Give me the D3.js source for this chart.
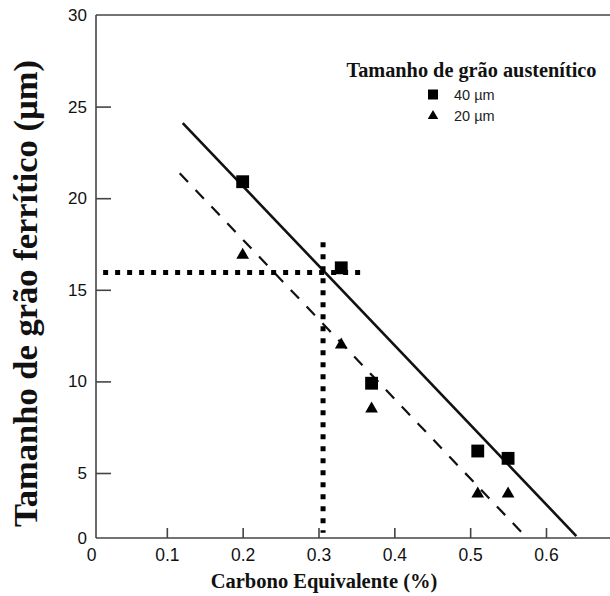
<!DOCTYPE html>
<html>
<head>
<meta charset="utf-8">
<script src="https://cdn.jsdelivr.net/npm/d3@7"></script>
<style>
  html, body { margin: 0; padding: 0; background: #fff; }
  svg { display: block; }
</style>
</head>
<body>
<svg id="chart" width="610" height="596"></svg>
<script>
// ---- data ----
const xTicks = [0, 0.1, 0.2, 0.3, 0.4, 0.5, 0.6];
const yTicks = [0, 5, 10, 15, 20, 25, 30];
const carbon = [0.20, 0.33, 0.37, 0.51, 0.55];
const grain40 = [20.9, 16.2, 9.9, 6.2, 5.8];
const grain20 = [16.9, 12.0, 8.5, 3.4, 3.4];
const fit40 = [[0.121, 24.1], [0.640, 0.15]];
const fit20 = [[0.117, 21.36], [0.570, 0.3]];
const guideH = [[0.016, 15.95], [0.355, 15.95]];
const guideV = [[0.306, 17.6], [0.306, 0.4]];
const legendTitle = "Tamanho de grão austenítico";
const legendLabels = ["40 µm", "20 µm"];
const xTitle = "Carbono Equivalente (%)";
const yTitle = "Tamanho de grão ferrítico (µm)";

// ---- layout ----
const W = 610, H = 596;
const svg = d3.select("#chart");
const x = d3.scaleLinear().domain([0, 0.6]).range([91, 546]);
const y = d3.scaleLinear().domain([0, 5, 30]).range([538, 473, 15]);
const axisX = 96;
const ink = "#111";
const axisInk = "#444";

// frame lines
svg.append("line").attr("x1", axisX).attr("x2", axisX)
  .attr("y1", y(30)).attr("y2", y(0))
  .attr("stroke", axisInk).attr("stroke-width", 1.6);
svg.append("line").attr("x1", axisX).attr("x2", W)
  .attr("y1", y(0)).attr("y2", y(0))
  .attr("stroke", axisInk).attr("stroke-width", 1.6);
svg.append("line").attr("x1", axisX).attr("x2", W)
  .attr("y1", y(30)).attr("y2", y(30))
  .attr("stroke", axisInk).attr("stroke-width", 1.6);

// y axis
const gy = svg.append("g").attr("transform", `translate(${axisX},0)`)
  .call(d3.axisLeft(y).tickValues(yTicks).tickSize(-15).tickPadding(9)
    .tickFormat(d3.format("d")));
gy.select(".domain").remove();
gy.selectAll(".tick line").attr("stroke", axisInk).attr("stroke-width", 1.6)
  .filter(d => d === 0 || d === 30).remove();
gy.selectAll(".tick text").attr("font-family", "'Liberation Sans', Arial, sans-serif")
  .attr("font-size", 17).attr("fill", "#111");

// x axis
const gx = svg.append("g").attr("transform", `translate(0,${y(0)})`)
  .call(d3.axisBottom(x).tickValues(xTicks).tickSize(-10).tickPadding(11)
    .tickFormat(d => d === 0 ? "0" : d3.format(".1f")(d)));
gx.select(".domain").remove();
gx.selectAll(".tick line").attr("stroke", axisInk).attr("stroke-width", 1.6)
  .filter(d => d === 0).remove();
gx.selectAll(".tick text").attr("font-family", "'Liberation Sans', Arial, sans-serif")
  .attr("font-size", 17.5).attr("fill", "#111");

// fit lines
const line = d3.line().x(d => x(d[0])).y(d => y(d[1]));
svg.append("path").attr("d", line(fit40)).attr("fill", "none")
  .attr("stroke", ink).attr("stroke-width", 2.6);
svg.append("path").attr("d", line(fit20)).attr("fill", "none")
  .attr("stroke", ink).attr("stroke-width", 2.2).attr("stroke-dasharray", "12,11");

// dotted guides
[guideH, guideV].forEach(g => {
  svg.append("path").attr("d", line(g)).attr("fill", "none")
    .attr("stroke", "#000").attr("stroke-width", 5).attr("stroke-dasharray", "5,7");
});

// markers
const sq = d3.symbol().type(d3.symbolSquare).size(165);
const tri = d3.symbol().type(d3.symbolTriangle).size(70);
svg.append("g").selectAll("path").data(carbon.map((c, i) => [c, grain40[i]]))
  .join("path").attr("d", sq)
  .attr("transform", d => `translate(${x(d[0])},${y(d[1])})`).attr("fill", "#000");
svg.append("g").selectAll("path").data(carbon.map((c, i) => [c, grain20[i]]))
  .join("path").attr("d", tri)
  .attr("transform", d => `translate(${x(d[0])},${y(d[1])})`).attr("fill", "#000");

// legend
svg.append("text").attr("x", 471.5).attr("y", 77).attr("text-anchor", "middle")
  .attr("font-family", "'Liberation Serif', 'Times New Roman', serif")
  .attr("font-weight", "bold").attr("font-size", 20.3).attr("fill", "#111")
  .text(legendTitle);
const legSyms = [d3.symbol().type(d3.symbolSquare).size(100), d3.symbol().type(d3.symbolTriangle).size(48)];
legendLabels.forEach((lab, i) => {
  const cy = 94.5 + i * 21.5;
  svg.append("path").attr("d", legSyms[i]).attr("transform", `translate(433,${cy})`).attr("fill", "#000");
  svg.append("text").attr("x", 454).attr("y", cy + 5)
    .attr("font-family", "'Liberation Sans', Arial, sans-serif")
    .attr("font-size", 14.5).attr("fill", "#222").text(lab);
});

// axis titles
svg.append("text").attr("x", (axisX + 546) / 2 + 3).attr("y", 588).attr("text-anchor", "middle")
  .attr("font-family", "'Liberation Serif', 'Times New Roman', serif")
  .attr("font-weight", "bold").attr("font-size", 20.5).attr("fill", "#111")
  .text(xTitle);
svg.append("text").attr("transform", `translate(37,${(y(30) + y(0)) / 2 + 17}) rotate(-90)`)
  .attr("text-anchor", "middle")
  .attr("font-family", "'Liberation Serif', 'Times New Roman', serif")
  .attr("font-weight", "bold").attr("font-size", 34.5).attr("fill", "#111")
  .text(yTitle);
</script>
</body>
</html>
